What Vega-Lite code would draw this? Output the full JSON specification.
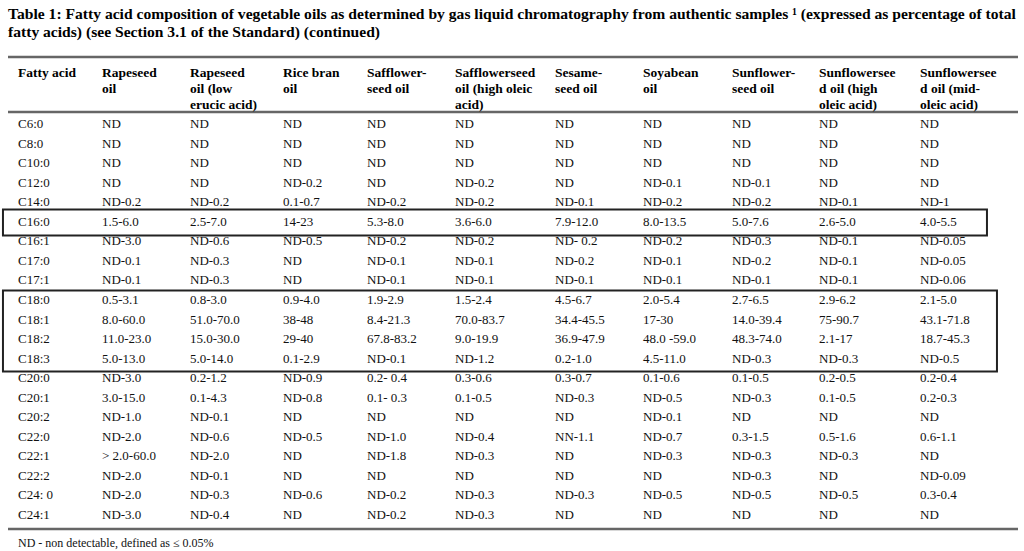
{
  "$schema": "https://vega.github.io/schema/vega-lite/v6.json",
  "width": 1010,
  "height": 472,
  "autosize": {"type": "none"},
  "padding": {"left": 8, "top": 57, "right": 6, "bottom": 22},
  "background": "#ffffff",
  "config": {"view": {"stroke": null}},
  "title": {
    "text": ["Table 1: Fatty acid composition of vegetable oils as determined by gas liquid chromatography from authentic samples ¹ (expressed as percentage of total", "fatty acids) (see Section 3.1 of the Standard) (continued)"],
    "anchor": "start",
    "frame": "group",
    "font": "Liberation Serif",
    "fontSize": 15.6,
    "fontWeight": "bold",
    "lineHeight": 18,
    "baseline": "top",
    "offset": 15,
    "color": "#000000"
  },
  "datasets": {
    "table": [
      {"a": "C6:0", "rs": "ND", "rl": "ND", "rb": "ND", "sf": "ND", "sh": "ND", "ss": "ND", "sb": "ND", "su": "ND", "uh": "ND", "um": "ND"},
      {"a": "C8:0", "rs": "ND", "rl": "ND", "rb": "ND", "sf": "ND", "sh": "ND", "ss": "ND", "sb": "ND", "su": "ND", "uh": "ND", "um": "ND"},
      {"a": "C10:0", "rs": "ND", "rl": "ND", "rb": "ND", "sf": "ND", "sh": "ND", "ss": "ND", "sb": "ND", "su": "ND", "uh": "ND", "um": "ND"},
      {"a": "C12:0", "rs": "ND", "rl": "ND", "rb": "ND-0.2", "sf": "ND", "sh": "ND-0.2", "ss": "ND", "sb": "ND-0.1", "su": "ND-0.1", "uh": "ND", "um": "ND"},
      {"a": "C14:0", "rs": "ND-0.2", "rl": "ND-0.2", "rb": "0.1-0.7", "sf": "ND-0.2", "sh": "ND-0.2", "ss": "ND-0.1", "sb": "ND-0.2", "su": "ND-0.2", "uh": "ND-0.1", "um": "ND-1"},
      {"a": "C16:0", "rs": "1.5-6.0", "rl": "2.5-7.0", "rb": "14-23", "sf": "5.3-8.0", "sh": "3.6-6.0", "ss": "7.9-12.0", "sb": "8.0-13.5", "su": "5.0-7.6", "uh": "2.6-5.0", "um": "4.0-5.5"},
      {"a": "C16:1", "rs": "ND-3.0", "rl": "ND-0.6", "rb": "ND-0.5", "sf": "ND-0.2", "sh": "ND-0.2", "ss": "ND- 0.2", "sb": "ND-0.2", "su": "ND-0.3", "uh": "ND-0.1", "um": "ND-0.05"},
      {"a": "C17:0", "rs": "ND-0.1", "rl": "ND-0.3", "rb": "ND", "sf": "ND-0.1", "sh": "ND-0.1", "ss": "ND-0.2", "sb": "ND-0.1", "su": "ND-0.2", "uh": "ND-0.1", "um": "ND-0.05"},
      {"a": "C17:1", "rs": "ND-0.1", "rl": "ND-0.3", "rb": "ND", "sf": "ND-0.1", "sh": "ND-0.1", "ss": "ND-0.1", "sb": "ND-0.1", "su": "ND-0.1", "uh": "ND-0.1", "um": "ND-0.06"},
      {"a": "C18:0", "rs": "0.5-3.1", "rl": "0.8-3.0", "rb": "0.9-4.0", "sf": "1.9-2.9", "sh": "1.5-2.4", "ss": "4.5-6.7", "sb": "2.0-5.4", "su": "2.7-6.5", "uh": "2.9-6.2", "um": "2.1-5.0"},
      {"a": "C18:1", "rs": "8.0-60.0", "rl": "51.0-70.0", "rb": "38-48", "sf": "8.4-21.3", "sh": "70.0-83.7", "ss": "34.4-45.5", "sb": "17-30", "su": "14.0-39.4", "uh": "75-90.7", "um": "43.1-71.8"},
      {"a": "C18:2", "rs": "11.0-23.0", "rl": "15.0-30.0", "rb": "29-40", "sf": "67.8-83.2", "sh": "9.0-19.9", "ss": "36.9-47.9", "sb": "48.0 -59.0", "su": "48.3-74.0", "uh": "2.1-17", "um": "18.7-45.3"},
      {"a": "C18:3", "rs": "5.0-13.0", "rl": "5.0-14.0", "rb": "0.1-2.9", "sf": "ND-0.1", "sh": "ND-1.2", "ss": "0.2-1.0", "sb": "4.5-11.0", "su": "ND-0.3", "uh": "ND-0.3", "um": "ND-0.5"},
      {"a": "C20:0", "rs": "ND-3.0", "rl": "0.2-1.2", "rb": "ND-0.9", "sf": "0.2- 0.4", "sh": "0.3-0.6", "ss": "0.3-0.7", "sb": "0.1-0.6", "su": "0.1-0.5", "uh": "0.2-0.5", "um": "0.2-0.4"},
      {"a": "C20:1", "rs": "3.0-15.0", "rl": "0.1-4.3", "rb": "ND-0.8", "sf": "0.1- 0.3", "sh": "0.1-0.5", "ss": "ND-0.3", "sb": "ND-0.5", "su": "ND-0.3", "uh": "0.1-0.5", "um": "0.2-0.3"},
      {"a": "C20:2", "rs": "ND-1.0", "rl": "ND-0.1", "rb": "ND", "sf": "ND", "sh": "ND", "ss": "ND", "sb": "ND-0.1", "su": "ND", "uh": "ND", "um": "ND"},
      {"a": "C22:0", "rs": "ND-2.0", "rl": "ND-0.6", "rb": "ND-0.5", "sf": "ND-1.0", "sh": "ND-0.4", "ss": "NN-1.1", "sb": "ND-0.7", "su": "0.3-1.5", "uh": "0.5-1.6", "um": "0.6-1.1"},
      {"a": "C22:1", "rs": "> 2.0-60.0", "rl": "ND-2.0", "rb": "ND", "sf": "ND-1.8", "sh": "ND-0.3", "ss": "ND", "sb": "ND-0.3", "su": "ND-0.3", "uh": "ND-0.3", "um": "ND"},
      {"a": "C22:2", "rs": "ND-2.0", "rl": "ND-0.1", "rb": "ND", "sf": "ND", "sh": "ND", "ss": "ND", "sb": "ND", "su": "ND-0.3", "uh": "ND", "um": "ND-0.09"},
      {"a": "C24: 0", "rs": "ND-2.0", "rl": "ND-0.3", "rb": "ND-0.6", "sf": "ND-0.2", "sh": "ND-0.3", "ss": "ND-0.3", "sb": "ND-0.5", "su": "ND-0.5", "uh": "ND-0.5", "um": "0.3-0.4"},
      {"a": "C24:1", "rs": "ND-3.0", "rl": "ND-0.4", "rb": "ND", "sf": "ND-0.2", "sh": "ND-0.3", "ss": "ND", "sb": "ND", "su": "ND", "uh": "ND", "um": "ND"}
    ],
    "headers": [
      {"h": "Fatty acid"},
      {"h": "Rapeseed|oil"},
      {"h": "Rapeseed|oil  (low|erucic acid)"},
      {"h": "Rice bran|oil"},
      {"h": "Safflower-|seed oil"},
      {"h": "Safflowerseed|oil (high oleic|acid)"},
      {"h": "Sesame-|seed oil"},
      {"h": "Soyabean|oil"},
      {"h": "Sunflower-|seed oil"},
      {"h": "Sunflowersee|d oil (high|oleic acid)"},
      {"h": "Sunflowersee|d oil  (mid-|oleic acid)"}
    ],
    "one": [{"n": 1}]
  },
  "layer": [
    {
      "data": {"name": "one"},
      "mark": {"type": "rule", "stroke": "#666666", "strokeWidth": 2.5},
      "encoding": {
        "y": {"datum": -0.155, "type": "quantitative", "axis": null, "scale": {"domain": [0, 1, 21], "range": [9, 67, 458], "zero": false, "nice": false}}
      }
    },
    {
      "data": {"name": "one"},
      "mark": {"type": "rule", "stroke": "#666666", "strokeWidth": 2.5},
      "encoding": {
        "y": {"datum": 0.793, "type": "quantitative", "axis": null, "scale": {"domain": [0, 1, 21], "range": [9, 67, 458], "zero": false, "nice": false}}
      }
    },
    {
      "data": {"name": "one"},
      "mark": {"type": "rule", "stroke": "#666666", "strokeWidth": 2.5},
      "encoding": {
        "y": {"datum": 21.716, "type": "quantitative", "axis": null, "scale": {"domain": [0, 1, 21], "range": [9, 67, 458], "zero": false, "nice": false}}
      }
    },
    {
      "data": {"name": "one"},
      "mark": {"type": "rect", "fill": null, "stroke": "#222222", "strokeWidth": 2},
      "encoding": {
        "x": {"datum": 0.821, "type": "quantitative", "axis": null, "scale": {"domain": [1, 2, 3, 4, 5, 6, 7, 8, 9, 10, 11], "range": [10, 94, 182, 275, 359, 447, 547, 635, 724, 811, 912], "zero": false, "nice": false}},
        "x2": {"datum": 11.663},
        "y": {"datum": 5.373, "type": "quantitative", "axis": null, "scale": {"domain": [0, 1, 21], "range": [9, 67, 458], "zero": false, "nice": false}},
        "y2": {"datum": 6.703}
      }
    },
    {
      "data": {"name": "one"},
      "mark": {"type": "rect", "fill": null, "stroke": "#222222", "strokeWidth": 2},
      "encoding": {
        "x": {"datum": 0.821, "type": "quantitative", "axis": null, "scale": {"domain": [1, 2, 3, 4, 5, 6, 7, 8, 9, 10, 11], "range": [10, 94, 182, 275, 359, 447, 547, 635, 724, 811, 912], "zero": false, "nice": false}},
        "x2": {"datum": 11.762},
        "y": {"datum": 9.517, "type": "quantitative", "axis": null, "scale": {"domain": [0, 1, 21], "range": [9, 67, 458], "zero": false, "nice": false}},
        "y2": {"datum": 13.66}
      }
    },
    {
      "data": {"name": "headers"},
      "transform": [{"window": [{"op": "row_number", "as": "col"}]}],
      "mark": {"type": "text", "align": "left", "baseline": "top", "font": "Liberation Serif", "fontSize": 13.5, "fontWeight": "bold", "lineBreak": "|", "lineHeight": 16, "color": "#000000"},
      "encoding": {
        "x": {"field": "col", "type": "quantitative", "axis": null, "scale": {"domain": [1, 2, 3, 4, 5, 6, 7, 8, 9, 10, 11], "range": [10, 94, 182, 275, 359, 447, 547, 635, 724, 811, 912], "zero": false, "nice": false}},
        "y": {"datum": 0, "type": "quantitative", "axis": null, "scale": {"domain": [0, 1, 21], "range": [9, 67, 458], "zero": false, "nice": false}},
        "text": {"field": "h"}
      }
    },
    {
      "data": {"name": "table"},
      "transform": [
        {"window": [{"op": "row_number", "as": "row"}]},
        {"fold": ["a", "rs", "rl", "rb", "sf", "sh", "ss", "sb", "su", "uh", "um"], "as": ["key", "v"]},
        {"window": [{"op": "row_number", "as": "col"}], "groupby": ["row"]}
      ],
      "mark": {"type": "text", "align": "left", "baseline": "middle", "font": "Liberation Serif", "fontSize": 13, "color": "#111111"},
      "encoding": {
        "x": {"field": "col", "type": "quantitative", "axis": null, "scale": {"domain": [1, 2, 3, 4, 5, 6, 7, 8, 9, 10, 11], "range": [10, 94, 182, 275, 359, 447, 547, 635, 724, 811, 912], "zero": false, "nice": false}},
        "y": {"field": "row", "type": "quantitative", "axis": null, "scale": {"domain": [0, 1, 21], "range": [9, 67, 458], "zero": false, "nice": false}},
        "text": {"field": "v"}
      }
    },
    {
      "data": {"values": [{"note": "ND - non detectable, defined as ≤ 0.05%"}]},
      "mark": {"type": "text", "align": "left", "baseline": "top", "font": "Liberation Serif", "fontSize": 12, "color": "#111111"},
      "encoding": {
        "x": {"datum": 1, "type": "quantitative", "axis": null, "scale": {"domain": [1, 2, 3, 4, 5, 6, 7, 8, 9, 10, 11], "range": [10, 94, 182, 275, 359, 447, 547, 635, 724, 811, 912], "zero": false, "nice": false}},
        "y": {"datum": 22.18, "type": "quantitative", "axis": null, "scale": {"domain": [0, 1, 21], "range": [9, 67, 458], "zero": false, "nice": false}},
        "text": {"field": "note"}
      }
    }
  ]
}
